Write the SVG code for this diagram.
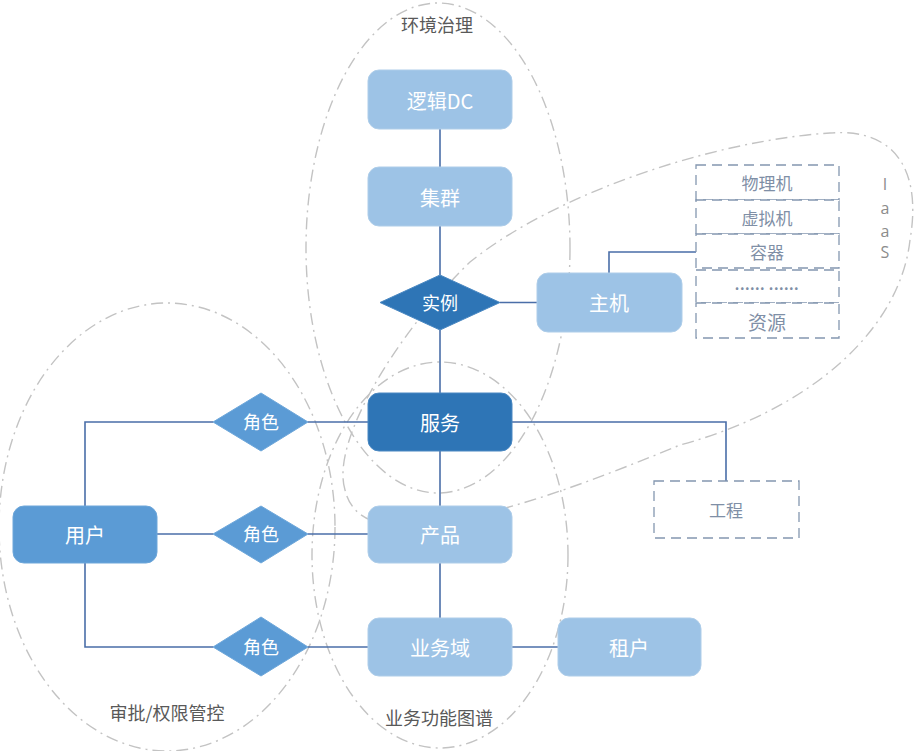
<svg xmlns="http://www.w3.org/2000/svg" width="924" height="751" viewBox="0 0 924 751">
<style>
.zone{fill:none;stroke:#c3c3c3;stroke-width:1.4;stroke-dasharray:12 5 2 5}
.zl{font-family:"Noto Sans CJK SC","Noto Sans",sans-serif;font-size:18px;fill:#595959;text-anchor:middle;dominant-baseline:central}
.light{fill:#9dc3e6;stroke:#aecde9;stroke-width:1}
.dark{fill:#2e75b6;stroke:#4a88c2;stroke-width:1}
.mid{fill:#5b9bd5;stroke:#6ea7da;stroke-width:1}
.nt{font-family:"Noto Sans CJK SC","Noto Sans",sans-serif;font-size:20px;fill:#ffffff;text-anchor:middle;dominant-baseline:central}
.dt{font-family:"Noto Sans CJK SC","Noto Sans",sans-serif;font-size:18px;fill:#ffffff;text-anchor:middle;dominant-baseline:central}
.dash{fill:#ffffff;stroke:#8497b0;stroke-width:1.3;stroke-dasharray:10 6}
.gt{font-family:"Noto Sans CJK SC","Noto Sans",sans-serif;font-size:17px;fill:#7f8fa6;text-anchor:middle;dominant-baseline:central}
.iaas{font-family:"Open Sans","Noto Sans",sans-serif;font-size:16px;fill:#8c8c8c;text-anchor:middle;dominant-baseline:central}
.link{fill:none;stroke:#4a6ea8;stroke-width:1.6}
</style>
<g id="zones">
<ellipse class="zone" cx="438" cy="248" rx="132" ry="245"/>
<path class="zone" d="M 345 490 C 330 440, 400 330, 470 262 C 560 190, 720 140, 830 133 C 895 128, 922 170, 910 240 C 900 330, 810 410, 680 445 C 590 482, 480 525, 400 525 C 365 525, 350 510, 345 490 Z"/>
<ellipse class="zone" cx="167" cy="527" rx="168" ry="224"/>
<ellipse class="zone" cx="440" cy="555" rx="128" ry="193"/>
<text class="zl" x="437" y="24">环境治理</text>
<text class="zl" x="167" y="712">审批/权限管控</text>
<text class="zl" x="439" y="717">业务功能图谱</text>
<text class="iaas" x="885" y="184">I</text>
<text class="iaas" x="885" y="208">a</text>
<text class="iaas" x="885" y="231">a</text>
<text class="iaas" x="885" y="252">S</text>
</g>
<g id="connectors">
<path class="link" d="M440 129 V167"/>
<path class="link" d="M440 226 V275"/>
<path class="link" d="M500 302.5 H537"/>
<path class="link" d="M440 330 V393"/>
<path class="link" d="M609 273 V252 H696"/>
<path class="link" d="M512 422 H726 V481"/>
<path class="link" d="M368 422 H308"/>
<path class="link" d="M213 422 H85 V506"/>
<path class="link" d="M157 534 H213"/>
<path class="link" d="M308 534 H368"/>
<path class="link" d="M85 563 V647 H213"/>
<path class="link" d="M308 647 H368"/>
<path class="link" d="M440 451 V506"/>
<path class="link" d="M440 563 V618"/>
<path class="link" d="M512 647 H558"/>
</g>
<g id="n-logicdc"><rect class="light" x="368" y="70" width="144" height="59" rx="11"/><text class="nt" x="440" y="100">逻辑DC</text></g>
<g id="n-cluster"><rect class="light" x="368" y="167" width="144" height="59" rx="11"/><text class="nt" x="440" y="197">集群</text></g>
<g id="n-instance"><polygon class="dark" points="380,302.5 440,275 500,302.5 440,330"/><text class="dt" x="440" y="302">实例</text></g>
<g id="n-host"><rect class="light" x="537" y="273" width="145" height="59" rx="11"/><text class="nt" x="609" y="302">主机</text></g>
<g id="n-service"><rect class="dark" x="368" y="393" width="144" height="58" rx="11"/><text class="nt" x="440" y="422">服务</text></g>
<g id="n-product"><rect class="light" x="368" y="506" width="144" height="57" rx="11"/><text class="nt" x="440" y="534">产品</text></g>
<g id="n-domain"><rect class="light" x="368" y="618" width="144" height="58" rx="11"/><text class="nt" x="440" y="647">业务域</text></g>
<g id="n-tenant"><rect class="light" x="558" y="618" width="143" height="58" rx="11"/><text class="nt" x="629" y="647">租户</text></g>
<g id="n-user"><rect class="mid" x="13" y="506" width="144" height="57" rx="11"/><text class="nt" x="85" y="534">用户</text></g>
<g id="n-role1"><polygon class="mid" points="213,422 261,393 308,422 261,451"/><text class="dt" x="261" y="421">角色</text></g>
<g id="n-role2"><polygon class="mid" points="213,534 261,506 308,534 261,563"/><text class="dt" x="261" y="533">角色</text></g>
<g id="n-role3"><polygon class="mid" points="213,647 261,617 308,647 261,676"/><text class="dt" x="261" y="646">角色</text></g>
<g id="n-project"><rect class="dash" x="654" y="481" width="145" height="57"/><text class="gt" x="726" y="509">工程</text></g>
<g id="n-resources">
<rect class="dash" x="696" y="165" width="143" height="35"/><text class="gt" x="767" y="182">物理机</text>
<rect class="dash" x="696" y="200" width="143" height="34"/><text class="gt" x="767" y="217">虚拟机</text>
<rect class="dash" x="696" y="234" width="143" height="34"/><text class="gt" x="767" y="251">容器</text>
<rect class="dash" x="696" y="270" width="143" height="33"/><text class="gt" x="767" y="284" style="font-weight:bold;font-size:14px;letter-spacing:0.5px">...... ......</text>
<rect class="dash" x="696" y="303" width="143" height="35"/><text class="gt" x="767" y="321" style="font-size:19px">资源</text>
</g>
</svg>
